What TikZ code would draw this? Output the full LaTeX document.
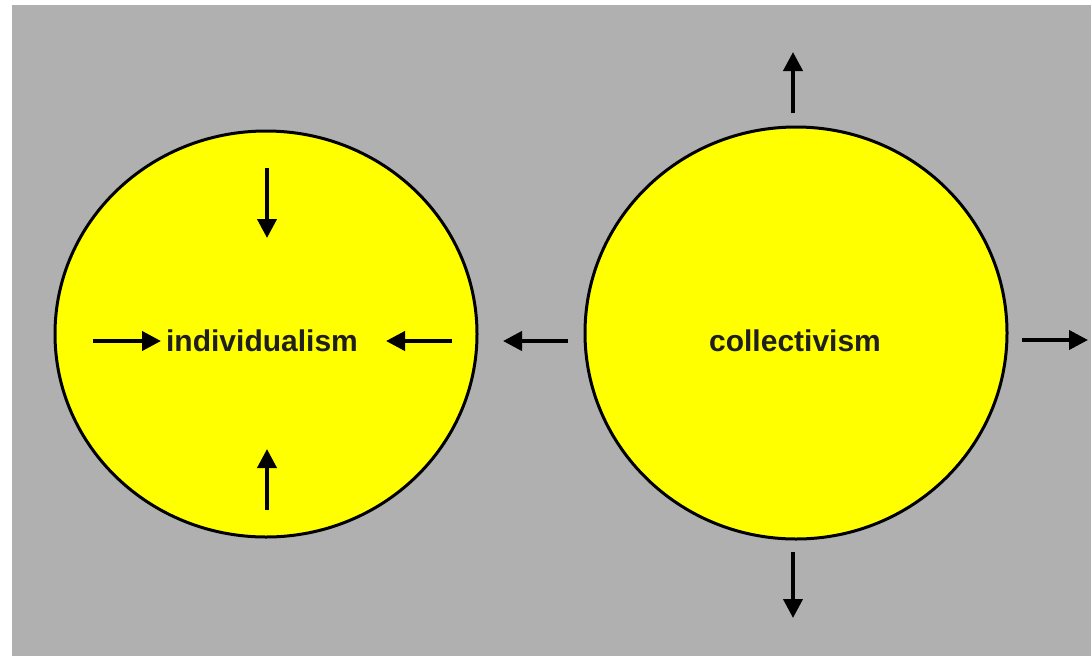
\documentclass[tikz,border=0pt]{standalone}
\usepackage{fontspec}
\setmainfont{Liberation Sans}
\usetikzlibrary{arrows.meta,shapes.geometric}
\definecolor{bgray}{RGB}{176,176,176}
\definecolor{discyellow}{RGB}{255,255,0}
\begin{document}
\begin{tikzpicture}[x=1pt,y=-1pt,
  disc/.style={ellipse, draw=black, line width=3pt, fill=discyellow, inner sep=0pt},
  lbl/.style={font=\fontsize{30}{36}\selectfont\bfseries, text=black!88, inner sep=0pt},
  arr/.style={line width=4pt, -{Triangle[length=19pt,width=19pt]}}]
\useasboundingbox (0,0) rectangle (1091,656);
\fill[white] (0,0) rectangle (1091,656);
\fill[bgray] (12,5) rectangle (1091,656);
% circles
\node[disc, minimum width=422pt, minimum height=406pt] (L) at (266,334) {};
\node[disc, minimum width=422pt, minimum height=412pt] (R) at (796,333) {};
% labels
\node[lbl] (ind) at (262,341) {individualism};
\node[lbl] (col) at (795,341) {collectivism};
% arrow end points
\coordinate (lw1) at (93,341);   \coordinate (lw2) at (161,341);
\coordinate (le1) at (452,341);  \coordinate (le2) at (386,341);
\coordinate (ln1) at (267,168);  \coordinate (ln2) at (267,238);
\coordinate (ls1) at (267,510);  \coordinate (ls2) at (267,449);
\coordinate (rw1) at (568,341);  \coordinate (rw2) at (503,341);
\coordinate (re1) at (1022,340); \coordinate (re2) at (1088,340);
\coordinate (rn1) at (793,113);  \coordinate (rn2) at (793,52);
\coordinate (rs1) at (793,552);  \coordinate (rs2) at (793,618);
% arrows
\draw[arr] (lw1) -- (lw2);
\draw[arr] (le1) -- (le2);
\draw[arr] (ln1) -- (ln2);
\draw[arr] (ls1) -- (ls2);
\draw[arr] (rw1) -- (rw2);
\draw[arr] (re1) -- (re2);
\draw[arr] (rn1) -- (rn2);
\draw[arr] (rs1) -- (rs2);
\end{tikzpicture}
\end{document}
